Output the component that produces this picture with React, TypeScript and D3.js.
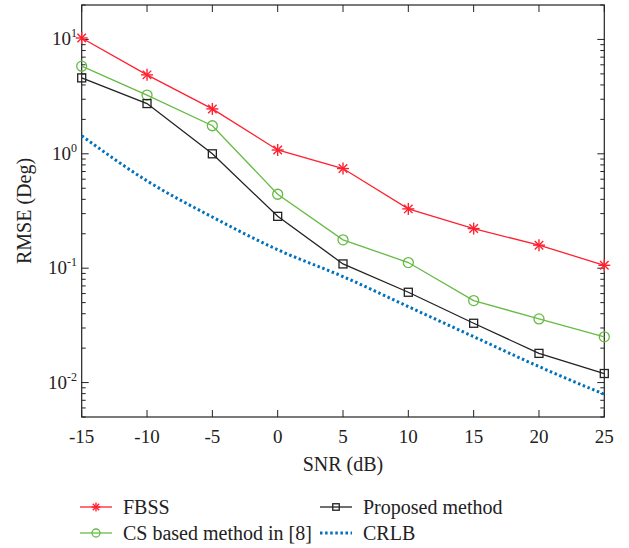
import React, { useEffect, useRef } from "react";
import * as d3 from "d3";

const snr = [-15, -10, -5, 0, 5, 10, 15, 20, 25];
const fbss = [10.3, 4.9, 2.47, 1.08, 0.743, 0.33, 0.222, 0.159, 0.106];
const csMethod = [5.84, 3.26, 1.76, 0.443, 0.177, 0.112, 0.0521, 0.036, 0.0251];
const proposed = [4.61, 2.75, 1.0, 0.284, 0.109, 0.0616, 0.033, 0.018, 0.012];
const crlb = [1.44, 0.58, 0.28, 0.145, 0.0845, 0.0461, 0.0252, 0.0138, 0.0079];
const yDecades = [0.01, 0.1, 1, 10];
const yExponents = ["-2", "-1", "0", "1"];

const W = 629;
const H = 548;
const margin = { left: 81.7, right: 629 - 604.3, top: 5, bottom: 548 - 417 };
const FONT = "'Liberation Serif', 'DejaVu Serif', serif";

const RED = "#ff2030";
const GREEN = "#66bb44";
const BLACK = "#222222";
const BLUE = "#0072bd";

function App() {
  const ref = useRef<SVGSVGElement>(null);

  useEffect(() => {
    const svg = d3.select(ref.current);
    svg.selectAll("*").remove();

    const x = d3.scaleLinear().domain([-15, 25]).range([margin.left, W - margin.right]);
    const y = d3.scaleLog().domain([0.005, 20]).range([H - margin.bottom, margin.top]);
    const [x0, x1] = x.range();
    const [yb, yt] = y.range();

    const g = svg.append("g");

    // minor ticks for log axis
    const minor: number[] = [];
    for (let e = -3; e <= 1; e++) {
      for (let m = 2; m <= 9; m++) {
        const v = m * Math.pow(10, e);
        if (v >= 0.005 && v <= 20) minor.push(v);
      }
    }

    const axisColor = "#222";
    // x ticks bottom & top
    snr.forEach((v) => {
      g.append("line").attr("x1", x(v)).attr("x2", x(v)).attr("y1", yb).attr("y2", yb - 7)
        .attr("stroke", axisColor).attr("stroke-width", 1);
      g.append("line").attr("x1", x(v)).attr("x2", x(v)).attr("y1", yt).attr("y2", yt + 7)
        .attr("stroke", axisColor).attr("stroke-width", 1);
      g.append("text").attr("x", x(v)).attr("y", 443).attr("text-anchor", "middle")
        .attr("font-family", FONT).attr("font-size", 19).attr("fill", "#222")
        .text(String(v));
    });

    // y ticks left & right
    yDecades.forEach((v, i) => {
      g.append("line").attr("x1", x0).attr("x2", x0 + 7).attr("y1", y(v)).attr("y2", y(v))
        .attr("stroke", axisColor);
      g.append("line").attr("x1", x1).attr("x2", x1 - 7).attr("y1", y(v)).attr("y2", y(v))
        .attr("stroke", axisColor);
      const t = g.append("text").attr("x", 77).attr("y", y(v) + 6).attr("text-anchor", "end")
        .attr("font-family", FONT).attr("font-size", 19).attr("fill", "#222");
      t.append("tspan").text("10");
      t.append("tspan").attr("dy", -8).attr("font-size", 12).text(yExponents[i]);
    });
    minor.forEach((v) => {
      g.append("line").attr("x1", x0).attr("x2", x0 + 4).attr("y1", y(v)).attr("y2", y(v))
        .attr("stroke", axisColor);
      g.append("line").attr("x1", x1).attr("x2", x1 - 4).attr("y1", y(v)).attr("y2", y(v))
        .attr("stroke", axisColor);
    });

    // box
    g.append("rect").attr("x", x0).attr("y", yt).attr("width", x1 - x0).attr("height", yb - yt)
      .attr("fill", "none").attr("stroke", axisColor).attr("stroke-width", 1.2);

    // axis labels
    g.append("text").attr("x", (x0 + x1) / 2).attr("y", 471).attr("text-anchor", "middle")
      .attr("font-family", FONT).attr("font-size", 20).attr("fill", "#222").text("SNR (dB)");
    g.append("text").attr("transform", `translate(31, ${(yt + yb) / 2}) rotate(-90)`)
      .attr("text-anchor", "middle").attr("font-family", FONT).attr("font-size", 20)
      .attr("fill", "#222").text("RMSE (Deg)");

    const line = d3.line<number>().x((_, i) => x(snr[i])).y((d) => y(d));
    const crlbLine = d3.line<number>().x((_, i) => x(snr[i])).y((d) => y(d)).curve(d3.curveMonotoneX);

    const plot = g.append("g");
    plot.append("path").attr("d", crlbLine(crlb)).attr("fill", "none").attr("stroke", BLUE)
      .attr("stroke-width", 3).attr("stroke-dasharray", "2.5,2.6");
    plot.append("path").attr("d", line(fbss)).attr("fill", "none").attr("stroke", RED).attr("stroke-width", 1.3);
    plot.append("path").attr("d", line(csMethod)).attr("fill", "none").attr("stroke", GREEN).attr("stroke-width", 1.3);
    plot.append("path").attr("d", line(proposed)).attr("fill", "none").attr("stroke", BLACK).attr("stroke-width", 1.3);

    const star = (sel: any, cx: number, cy: number, r: number) => {
      const p = sel.append("g").attr("stroke", RED).attr("stroke-width", 1.4);
      [0, 45, 90, 135].forEach((a) => {
        const rad = (a * Math.PI) / 180;
        p.append("line").attr("x1", cx - r * Math.cos(rad)).attr("y1", cy - r * Math.sin(rad))
          .attr("x2", cx + r * Math.cos(rad)).attr("y2", cy + r * Math.sin(rad));
      });
    };
    const circle = (sel: any, cx: number, cy: number, r: number) => {
      sel.append("circle").attr("cx", cx).attr("cy", cy).attr("r", r).attr("fill", "none")
        .attr("stroke", GREEN).attr("stroke-width", 1.3);
    };
    const square = (sel: any, cx: number, cy: number, s: number) => {
      sel.append("rect").attr("x", cx - s / 2).attr("y", cy - s / 2).attr("width", s).attr("height", s)
        .attr("fill", "none").attr("stroke", BLACK).attr("stroke-width", 1.3);
    };

    fbss.forEach((v, i) => star(plot, x(snr[i]), y(v), 6));
    csMethod.forEach((v, i) => circle(plot, x(snr[i]), y(v), 5));
    proposed.forEach((v, i) => square(plot, x(snr[i]), y(v), 8));

    // legend
    const lg = svg.append("g");
    const row1 = 507;
    const row2 = 533;
    const items = [
      { lx: 80, row: row1, label: "FBSS", color: RED, kind: "star" },
      { lx: 80, row: row2, label: "CS based method in [8]", color: GREEN, kind: "circle" },
      { lx: 320, row: row1, label: "Proposed method", color: BLACK, kind: "square" },
      { lx: 320, row: row2, label: "CRLB", color: BLUE, kind: "dot" },
    ];
    items.forEach((it) => {
      const ln = lg.append("line").attr("x1", it.lx).attr("x2", it.lx + 32).attr("y1", it.row).attr("y2", it.row)
        .attr("stroke", it.color).attr("stroke-width", it.kind === "dot" ? 3 : 1.3);
      if (it.kind === "dot") ln.attr("stroke-dasharray", "2.5,2.6");
      const cx = it.lx + 16;
      if (it.kind === "star") star(lg, cx, it.row, 4.5);
      if (it.kind === "circle") circle(lg, cx, it.row, 4);
      if (it.kind === "square") square(lg, cx, it.row, 6.5);
      lg.append("text").attr("x", it.lx + 43).attr("y", it.row + 6.5).attr("font-family", FONT)
        .attr("font-size", 20).attr("fill", "#222").text(it.label);
    });
  }, []);

  return (
    <svg ref={ref} width={W} height={H} style={{ position: "absolute", left: 0, top: 0, background: "#fff" }} />
  );
}

export default App;
